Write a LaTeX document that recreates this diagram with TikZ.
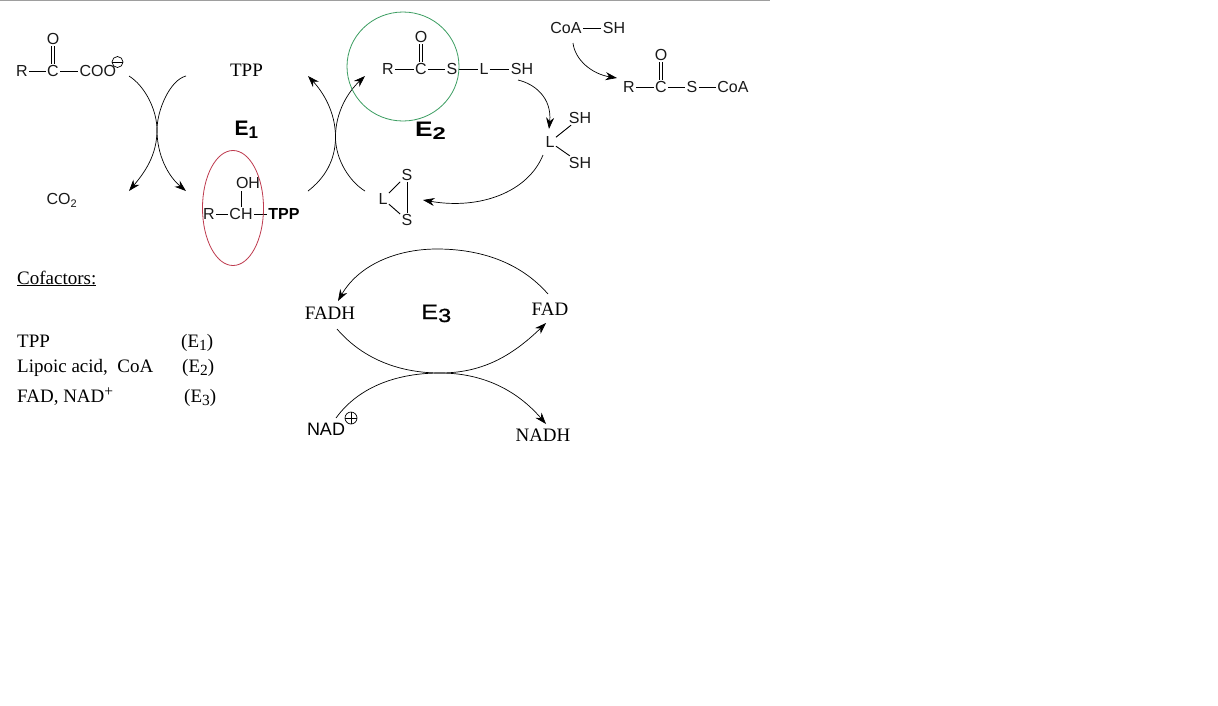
\documentclass[tikz,border=0pt]{standalone}
\usepackage{fontspec}
\setmainfont{Liberation Serif}
\newfontfamily\arialf{Liberation Sans}
\newfontfamily\arialm[FakeBold=0.8]{Liberation Sans}
\usetikzlibrary{arrows.meta,shapes.geometric}
\definecolor{ringred}{HTML}{BE3A4E}
\definecolor{ringgreen}{HTML}{3C9E62}
\newcommand{\lowr}[2]{\raisebox{-#1pt}{\fontsize{15.5}{15.5}\selectfont #2}}
\tikzset{
  atom/.style={font=\arialf\fontsize{16}{16}\selectfont, inner sep=1.5pt, outer sep=0pt, text=black!90},
  boldatom/.style={font=\arialf\bfseries\fontsize{16}{16}\selectfont, inner sep=1.5pt, text=black},
  serif/.style={font=\fontsize{19}{19}\selectfont, inner sep=0pt, text=black},
  listtext/.style={serif, anchor=base west},
  enzyme/.style={font=\arialf\bfseries\fontsize{21}{21}\selectfont, inner sep=0pt, text=black},
  bond/.style={line width=0.9pt, black},
  curve/.style={line width=0.7pt, black},
  arrowcurve/.style={curve, -{Stealth[length=11.5pt,width=8pt]}},
  sign/.style={line width=0.7pt, black}
}
\begin{document}
\begin{tikzpicture}[x=1pt,y=-1pt]
\useasboundingbox (0,0) rectangle (1218,705);
\fill[white] (0,0) rectangle (1218,705);
\fill[black!38] (0,0) rectangle (770,1.3);

% Pyruvate
\node[atom] (r1) at (22,71) {R};
\node[atom] (c1) at (53,71) {C};
\node[atom] (o1) at (53,39) {O};
\node[atom,anchor=west] (coo) at (78,71) {COO};
\draw[bond] (r1) -- (c1);
\draw[bond] (c1) -- (coo);
\draw[bond] ([xshift=-1.9]c1.north) -- ([xshift=-1.9]o1.south);
\draw[bond] ([xshift=1.9]c1.north) -- ([xshift=1.9]o1.south);
\draw[sign] (117.5,62) circle (5.5);
\draw[sign] (112,62) -- (123,62);

% TPP, E1, CO2
\node[serif] (tppfree) at (246.5,70) {TPP};
\node[enzyme,anchor=base west] (e1) at (234.5,135) {E\lowr{3}{\arialf\bfseries\fontsize{17}{17}\selectfont 1}};
\node[atom,anchor=west] (co2) at (45,200) {CO\lowr{3}{\arialf\fontsize{11}{11}\selectfont 2}};

% Hydroxyalkyl-TPP
\node[atom] (r2) at (209,214) {R};
\node[atom] (ch) at (241,214) {CH};
\node[atom] (oh) at (248,183) {OH};
\node[boldatom] (tppb) at (284,214) {TPP};
\coordinate (ohb) at (241,191);
\draw[bond] (r2) -- (ch);
\draw[bond] (ch) -- (tppb);
\draw[bond] (ohb) -- (ch.north);
\node[draw=ringred, line width=0.8pt, ellipse, minimum width=61pt, minimum height=115pt, inner sep=0pt] (redring) at (233,208) {};

% X curves, E1
\coordinate (xa1) at (129,76); \coordinate (xa2) at (186,76);
\coordinate (xa3) at (129,191); \coordinate (xa4) at (186,191);
\coordinate (xam) at (157,130);
\draw[arrowcurve] (xa1) .. controls (145,86) and (157,110) .. (xam) .. controls (157,155) and (145,172) .. (xa3);
\draw[arrowcurve] (xa2) .. controls (170,80) and (157,110) .. (xam) .. controls (157,155) and (168,176) .. (xa4);

% X curves, E2
\coordinate (xb1) at (308,191); \coordinate (xb2) at (365,191);
\coordinate (xb3) at (308,76); \coordinate (xb4) at (365,76);
\coordinate (xbm) at (335.5,137);
\draw[arrowcurve] (xb1) .. controls (325,178) and (335.5,160) .. (xbm) .. controls (335.5,112) and (323,92) .. (xb3);
\draw[arrowcurve] (xb2) .. controls (350,182) and (335.5,160) .. (xbm) .. controls (335.5,112) and (348,92) .. (xb4);

% Acetyl dihydrolipoamide
\node[atom] (r3) at (388,69) {R};
\node[atom] (c3) at (421,69) {C};
\node[atom] (o3) at (421,37) {O};
\node[atom] (s3) at (452,69) {S};
\node[atom] (l3) at (484,69) {L};
\node[atom] (sh3) at (522,69) {SH};
\draw[bond] (r3) -- (c3);
\draw[bond] (c3) -- (s3);
\draw[bond] (s3) -- (l3);
\draw[bond] (l3) -- (sh3);
\draw[bond] ([xshift=-1.9]c3.north) -- ([xshift=-1.9]o3.south);
\draw[bond] ([xshift=1.9]c3.north) -- ([xshift=1.9]o3.south);
\node[draw=ringgreen, line width=0.8pt, ellipse, minimum width=112pt, minimum height=109pt, inner sep=0pt] (greenring) at (403,66.5) {};
\node[enzyme,anchor=base west] (e2) at (415,136) {\scalebox{1.25}[1]{E}\lowr{3}{\arialf\bfseries\fontsize{17}{17}\selectfont\scalebox{1.4}[1]{2}}};

% CoA-SH
\node[atom] (coa1) at (566,28) {CoA};
\node[atom] (sh1) at (614,28) {SH};
\draw[bond] (coa1) -- (sh1);
\coordinate (ca1) at (573,43); \coordinate (ca2) at (617,78);
\draw[arrowcurve] (ca1) .. controls (575,60) and (592,74) .. (ca2);

% Acetyl-CoA
\node[atom] (r4) at (629,87) {R};
\node[atom] (c4) at (661,87) {C};
\node[atom] (o4) at (661,55) {O};
\node[atom] (s4) at (692,87) {S};
\node[atom] (coa4) at (733,87) {CoA};
\draw[bond] (r4) -- (c4);
\draw[bond] (c4) -- (s4);
\draw[bond] (s4) -- (coa4);
\draw[bond] ([xshift=-1.9]c4.north) -- ([xshift=-1.9]o4.south);
\draw[bond] ([xshift=1.9]c4.north) -- ([xshift=1.9]o4.south);

% Dihydrolipoamide
\node[atom] (l5) at (550,142) {L};
\node[atom] (sh5a) at (580,118) {SH};
\node[atom] (sh5b) at (580,163) {SH};
\draw[bond] (l5) -- (sh5a);
\draw[bond] (l5) -- (sh5b);
\coordinate (cb1) at (518,80); \coordinate (cb2) at (549,129);
\draw[arrowcurve] (cb1) .. controls (535,84) and (552,98) .. (cb2);

% Lipoamide
\node[atom] (l6) at (383,199) {L};
\node[atom] (s6a) at (407,175) {S};
\node[atom] (s6b) at (407,220) {S};
\draw[bond] (l6) -- (s6a);
\draw[bond] (l6) -- (s6b);
\draw[bond] (s6a) -- (s6b);
\coordinate (cc1) at (543,155); \coordinate (cc2) at (423,200);
\draw[arrowcurve] (cc1) .. controls (528,192) and (480,210) .. (cc2);

% E3 cycle
\node[serif] (fadh) at (330,313) {FADH};
\node[serif] (fad) at (550,309) {FAD};
\node[font=\arialf\fontsize{18}{18}\selectfont, inner sep=0pt] (nad) at (326,429.5) {NAD};
\node[serif] (nadh) at (543,435) {NADH};
\node[enzyme,anchor=base west,font=\arialm\fontsize{23}{23}\selectfont] (e3) at (421,319) {\scalebox{1.1}[0.9]{E}\lowr{3}{\arialm\fontsize{19}{19}\selectfont\scalebox{1.25}[1]{3}}};
\draw[sign] (351,418) circle (6);
\draw[sign] (345,418) -- (357,418);
\draw[sign] (351,412) -- (351,424);
\coordinate (d1) at (548,294); \coordinate (d2) at (338,301);
\coordinate (d3) at (337,329); \coordinate (d4) at (546,323);
\coordinate (d5) at (336,418); \coordinate (d6) at (546,424);
\coordinate (dtop) at (437,249); \coordinate (dmid) at (440,373);
\draw[arrowcurve] (d1) .. controls (520,262) and (480,249) .. (dtop) .. controls (395,249) and (358,266) .. (d2);
\draw[arrowcurve] (d3) .. controls (368,365) and (410,373) .. (dmid) .. controls (480,373) and (510,358) .. (d4);
\draw[arrowcurve] (d5) .. controls (360,385) and (400,373) .. (dmid) .. controls (480,373) and (515,388) .. (d6);

% Cofactor list
\node[listtext] (cof) at (17,284) {\underline{Cofactors:}};
\node[listtext] (l1a) at (17,347) {TPP};
\node[listtext] (l1b) at (181,347) {(E\lowr{3}{1})};
\node[listtext] (l2a) at (17,372) {Lipoic acid,\ \ CoA};
\node[listtext] (l2b) at (182,372) {(E\lowr{3}{2})};
\node[listtext] (l3a) at (17,402) {FAD, NAD\raisebox{6pt}{\fontsize{15.5}{15.5}\selectfont +}};
\node[listtext] (l3b) at (184,402) {(E\lowr{3}{3})};
\end{tikzpicture}
\end{document}
